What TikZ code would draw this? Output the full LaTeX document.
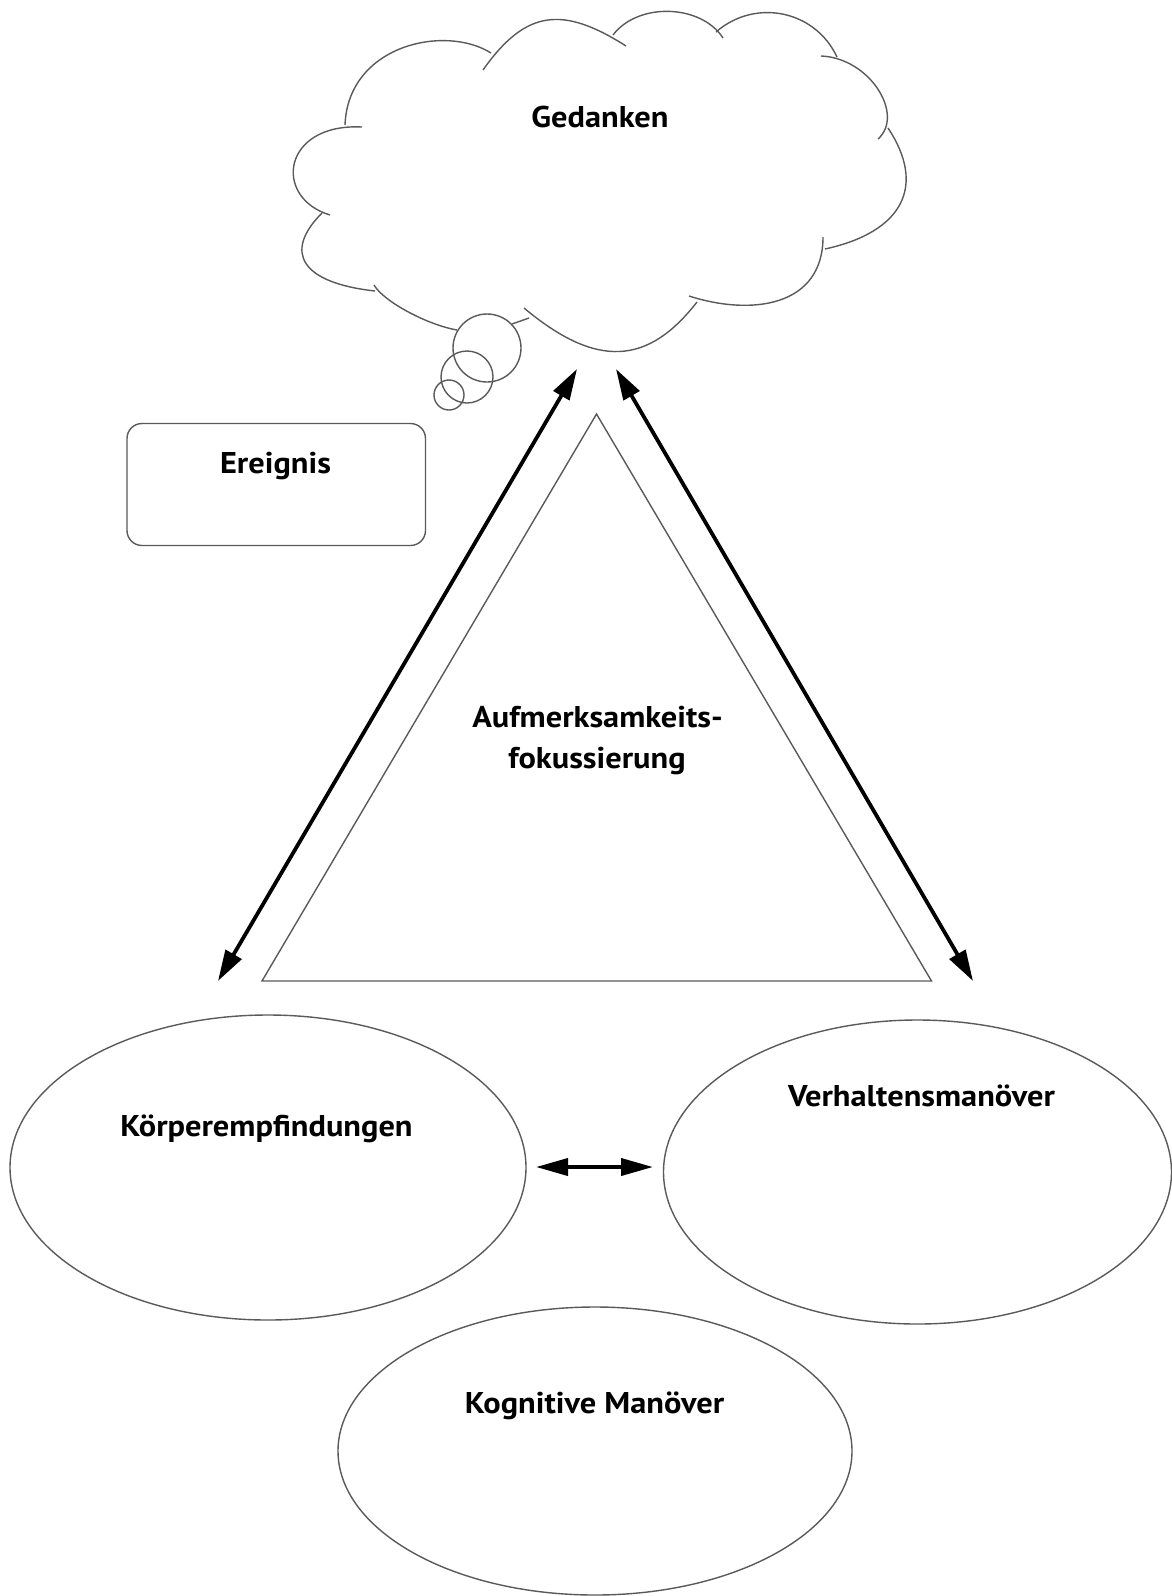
\documentclass[tikz,border=0pt]{standalone}
\usepackage{fontspec}
\setmainfont{PT Sans}[FakeStretch=1.08]
\usetikzlibrary{arrows.meta,shapes.geometric}
\definecolor{lg}{RGB}{90,90,90}
\begin{document}
\begin{tikzpicture}[x=1pt,y=-1pt,
  shapeline/.style={draw=lg, line width=1.4pt},
  lbl/.style={font=\fontsize{30}{36}\selectfont\bfseries, anchor=base, inner sep=0pt},
  dblarrow/.style={line width=3.8pt, {Triangle[length=31pt,width=18pt]}-{Triangle[length=31pt,width=18pt]}},
]
\fill[white] (0,0) rectangle (1172,1596);
\useasboundingbox (0,0) rectangle (1172,1596);

% cloud
\begin{scope}[shapeline]
\draw (345,125) .. controls (348,45) and (445,24) .. (491,53);
\draw (483,70) .. controls (526,9) and (563,6) .. (626,46);
\draw (613,35) .. controls (638,2) and (701,4) .. (723,38);
\draw (716,32) .. controls (755,-2) and (815,10) .. (837,57);
\draw (821,56) .. controls (870,58) and (905,115) .. (878,139);
\draw (888,128) .. controls (926.5,186) and (903,232) .. (825,249);
\draw (823,237) .. controls (823,307) and (751,316) .. (689,296);
\draw (697,302) .. controls (648,365) and (597,369) .. (524,308);
\draw (529,318) -- (512,324);
\draw (457,330) .. controls (428,325) and (384,302) .. (374,285);
\draw (375,291) .. controls (300.8,282.8) and (283,252) .. (322,213);
\draw (330,215) .. controls (272.4,197.6) and (282,123) .. (362,127);
\draw (487,348) circle[radius=34];
\draw (467,377) circle[radius=26];
\draw (449,395) circle[radius=15];
\end{scope}
\node[lbl] (gedanken) at (600,127) {Gedanken};

% event box
\node[shapeline, rounded corners=15pt, minimum width=298.5pt, minimum height=122pt, inner sep=0pt] (ereignis) at (276.25,484.5) {};
\node[lbl] (ereignistxt) at (275.5,473) {Ereignis};

% triangle
\coordinate (ta) at (596.5,414);
\coordinate (tr) at (931.5,981);
\coordinate (tl) at (262,981);
\draw[shapeline, line join=miter] (ta) -- (tr) -- (tl) -- cycle;
\node[lbl] (auf1) at (597.5,727) {Aufmerksamkeits-};
\node[lbl] (auf2) at (597,768) {fokussierung};

% arrows
\coordinate (g1) at (577,369);
\coordinate (k1) at (218,981);
\coordinate (g2) at (616,369);
\coordinate (v1) at (973,981);
\draw[dblarrow] (k1) -- (g1);
\draw[dblarrow] (g2) -- (v1);

% ellipses
\node[ellipse, shapeline, minimum width=516pt, minimum height=305pt, inner sep=0pt] (koerper) at (268,1167.5) {};
\node[ellipse, shapeline, minimum width=508pt, minimum height=304pt, inner sep=0pt] (verhalten) at (917.5,1172) {};
\node[ellipse, shapeline, minimum width=514pt, minimum height=288pt, inner sep=0pt] (kognitiv) at (595,1451) {};
\node[lbl] (koerpertxt) at (266.5,1136) {Körperempfindungen};
\node[lbl] (verhaltentxt) at (921.5,1106) {Verhaltensmanöver};
\node[lbl] (kognitivtxt) at (594.5,1413) {Kognitive Manöver};

\coordinate (h1) at (536,1167);
\coordinate (h2) at (653,1167);
\draw[line width=3.8pt, {Triangle[length=32pt,width=17pt]}-{Triangle[length=32pt,width=17pt]}] (h1) -- (h2);
\end{tikzpicture}
\end{document}
